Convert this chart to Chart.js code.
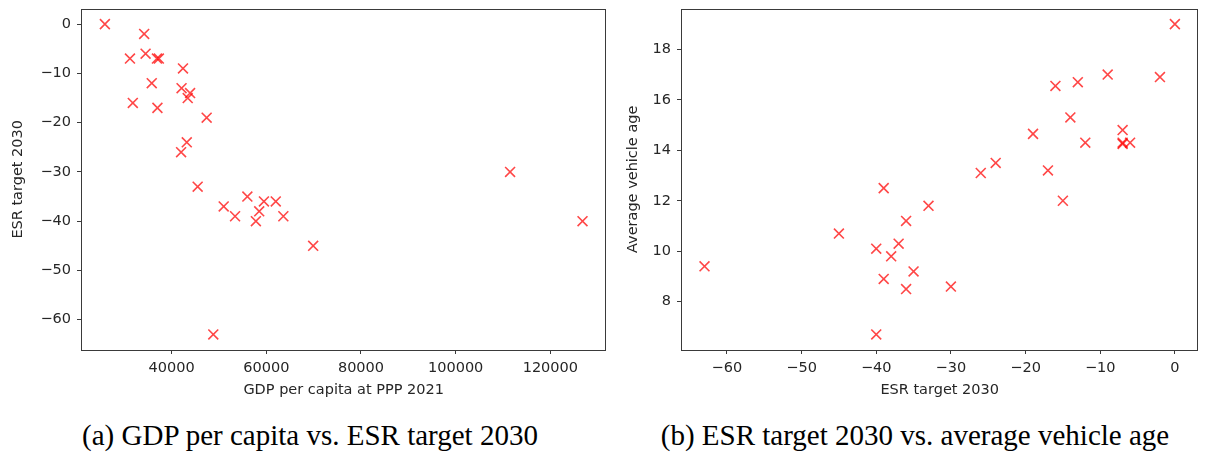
<!DOCTYPE html>
<html>
<head>
<meta charset="utf-8">
<script src="https://cdn.jsdelivr.net/npm/chart.js@4"></script>
<style>
  html, body { margin: 0; padding: 0; background: #fff; }
  body { width: 1207px; height: 458px; position: relative; overflow: hidden; }
  .panel { position: absolute; top: 0; height: 400px; }
  .caption {
    position: absolute; top: 419px; font-family: "Liberation Serif", serif;
    font-size: 29px; color: #000; white-space: nowrap; transform: translateX(-50%);
  }
</style>
</head>
<body>
<div class="panel" style="left:0; width:615px;"><canvas id="gdpChart" width="615" height="400"></canvas></div>
<div class="panel" style="left:615px; width:592px;"><canvas id="ageChart" width="592" height="400"></canvas></div>
<div class="caption" style="left:310px;">(a) GDP per capita vs. ESR target 2030</div>
<div class="caption" style="left:915px;">(b) ESR target 2030 vs. average vehicle age</div>
<script>
// (a) GDP per capita vs ESR target
const gdpPerCapita = [25900, 34200, 31200, 34500, 36900, 37300, 42400, 35800, 42100, 43900,
                      43400, 31800, 37000, 47400, 43200, 42000, 45500, 56000, 51000, 53400,
                      59500, 62000, 58500, 57800, 63600, 69900, 48800, 111500, 126800];
const esrByGdp = [0, -2, -7, -6, -7, -7, -9, -12, -13, -14,
                  -15, -16, -17, -19, -24, -26, -33, -35, -37, -39,
                  -36, -36, -38, -40, -39, -45, -63, -30, -40];

// (b) ESR target vs average vehicle age
const esrByAge = [0, -2, -9, -13, -16, -14, -19, -7, -12, -7,
                  -7, -6, -24, -26, -17, -15, -33, -36, -37, -35,
                  -36, -30, -63, -45, -40, -38, -39, -39, -40];
const vehicleAge = [19.0, 16.9, 17.0, 16.7, 16.55, 15.3, 14.65, 14.8, 14.3, 14.25,
                    14.3, 14.3, 13.5, 13.1, 13.2, 12.0, 11.8, 11.2, 10.3, 9.2,
                    8.5, 8.6, 9.4, 10.7, 10.1, 9.8, 8.9, 12.5, 6.7];

const gdpTicks = [40000, 60000, 80000, 100000, 120000];
const esrTicks = [-60, -50, -40, -30, -20, -10, 0];
const ageTicks = [8, 10, 12, 14, 16, 18];

const TEXT = '#262626';
const SPINE = '#3a3a3a';
const MARK = 'rgba(255, 0, 0, 0.72)';
const FONT = { family: '"DejaVu Sans", sans-serif', size: 14.5 };

// 5% padding on each side of the data range
function padded(values) {
  const lo = Math.min(...values), hi = Math.max(...values);
  const m = (hi - lo) * 0.05;
  return { min: lo - m, max: hi + m };
}

const frame = {
  id: 'frame',
  afterDraw(chart) {
    const { ctx, chartArea: a } = chart;
    ctx.save();
    ctx.strokeStyle = SPINE;
    ctx.lineWidth = 1;
    ctx.strokeRect(Math.round(a.left) + 0.5, Math.round(a.top) + 0.5,
                   Math.round(a.right - a.left) - 1, Math.round(a.bottom - a.top));
    ctx.restore();
  }
};

// fixed scale size, and no extra room reserved for edge labels
function fixSize(prop, size) {
  return s => {
    s[prop] = size;
    s.paddingTop = s.paddingBottom = s.paddingLeft = s.paddingRight = 0;
  };
}

function axis(range, ticks, title, fit, titlePad) {
  return {
    type: 'linear',
    min: range.min,
    max: range.max,
    border: { display: false },
    grid: { drawOnChartArea: false, drawTicks: true, tickLength: 4, color: SPINE, lineWidth: 1 },
    ticks: {
      color: TEXT, font: FONT, padding: 6, maxRotation: 0, autoSkip: false,
      callback: v => String(v).replace('-', '\u2212')
    },
    afterBuildTicks: scale => { scale.ticks = ticks.map(v => ({ value: v })); },
    afterFit: fit,
    title: { display: true, text: title, color: TEXT, font: FONT, padding: titlePad }
  };
}

function scatter(id, xs, ys, xTicks, yTicks, xTitle, yTitle, yWidth, pad) {
  const points = xs.map((x, i) => ({ x: x, y: ys[i] }));
  return new Chart(document.getElementById(id), {
    type: 'scatter',
    data: {
      datasets: [{
        data: points,
        pointStyle: 'crossRot',
        pointRadius: 7,
        pointHoverRadius: 7,
        borderColor: MARK,
        backgroundColor: MARK,
        borderWidth: 1.6
      }]
    },
    options: {
      responsive: false,
      animation: false,
      events: [],
      layout: { padding: pad },
      plugins: { legend: { display: false }, tooltip: { enabled: false } },
      scales: {
        x: axis(padded(xs), xTicks, xTitle, fixSize('height', 50), { top: 0, bottom: 1 }),
        y: axis(padded(ys), yTicks, yTitle, fixSize('width', yWidth), { top: 10, bottom: 0 })
      }
    },
    plugins: [frame]
  });
}

scatter('gdpChart', gdpPerCapita, esrByGdp, gdpTicks, esrTicks,
        'GDP per capita at PPP 2021', 'ESR target 2030', 81,
        { top: 8, right: 8, left: 0, bottom: 0 });
scatter('ageChart', esrByAge, vehicleAge, esrTicks, ageTicks,
        'ESR target 2030', 'Average vehicle age', 66,
        { top: 8, right: 1, left: 0, bottom: 0 });
</script>
</body>
</html>
